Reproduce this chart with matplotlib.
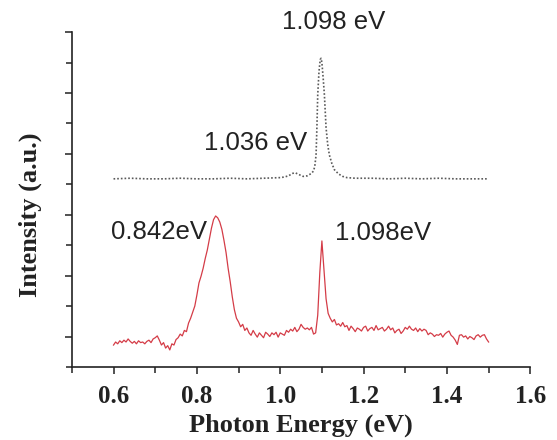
import matplotlib
matplotlib.use("Agg")
import matplotlib.pyplot as plt
from matplotlib.ticker import MultipleLocator

# PL spectra: lower trace (red, solid) and offset upper trace (grey, dotted)
red_energy = [
    0.600, 0.605, 0.610, 0.615, 0.620, 0.625, 0.630, 0.635, 0.640, 0.645,
    0.650, 0.655, 0.660, 0.665, 0.670, 0.675, 0.680, 0.685, 0.690, 0.695,
    0.700, 0.705, 0.710, 0.715, 0.720, 0.725, 0.730, 0.735, 0.740, 0.745,
    0.750, 0.755, 0.760, 0.765, 0.770, 0.775, 0.780, 0.785, 0.790, 0.795,
    0.800, 0.805, 0.810, 0.815, 0.820, 0.825, 0.830, 0.835, 0.840, 0.845,
    0.850, 0.855, 0.860, 0.865, 0.870, 0.875, 0.880, 0.885, 0.890, 0.895,
    0.900, 0.905, 0.910, 0.915, 0.920, 0.925, 0.930, 0.935, 0.940, 0.945,
    0.950, 0.955, 0.960, 0.965, 0.970, 0.975, 0.980, 0.985, 0.990, 0.995,
    1.000, 1.005, 1.010, 1.015, 1.020, 1.025, 1.030, 1.035, 1.040, 1.045,
    1.050, 1.055, 1.060, 1.065, 1.070, 1.075, 1.080, 1.085, 1.090, 1.095,
    1.100, 1.105, 1.110, 1.115, 1.120, 1.125, 1.130, 1.135, 1.140, 1.145,
    1.150, 1.155, 1.160, 1.165, 1.170, 1.175, 1.180, 1.185, 1.190, 1.195,
    1.200, 1.205, 1.210, 1.215, 1.220, 1.225, 1.230, 1.235, 1.240, 1.245,
    1.250, 1.255, 1.260, 1.265, 1.270, 1.275, 1.280, 1.285, 1.290, 1.295,
    1.300, 1.305, 1.310, 1.315, 1.320, 1.325, 1.330, 1.335, 1.340, 1.345,
    1.350, 1.355, 1.360, 1.365, 1.370, 1.375, 1.380, 1.385, 1.390, 1.395,
    1.400, 1.405, 1.410, 1.415, 1.420, 1.425, 1.430, 1.435, 1.440, 1.445,
    1.450, 1.455, 1.460, 1.465, 1.470, 1.475, 1.480, 1.485, 1.490, 1.495,
    1.500,
]
red_intensity = [
    -0.14, -0.09, -0.12, -0.07, -0.10, -0.06, -0.09, -0.04, -0.08, -0.11,
    -0.08, -0.12, -0.07, -0.10, -0.09, -0.12, -0.08, -0.06, -0.10, -0.04,
    -0.02, 0.01, -0.06, -0.14, -0.10, -0.19, -0.15, -0.22, -0.12, -0.14,
    -0.05, -0.02, 0.04, 0.01, 0.10, 0.08, 0.22, 0.30, 0.40, 0.50,
    0.68, 0.88, 0.99, 1.12, 1.28, 1.42, 1.60, 1.78, 1.92, 1.98,
    1.95, 1.88, 1.76, 1.58, 1.38, 1.12, 0.90, 0.65, 0.44, 0.30,
    0.24, 0.16, 0.20, 0.10, 0.14, 0.06, 0.02, 0.10, 0.04, -0.01,
    0.06, 0.02, -0.02, 0.07, 0.04, 0.00, 0.06, 0.03, 0.07, -0.01,
    0.06, 0.04, 0.02, 0.10, 0.07, 0.12, 0.09, 0.15, 0.08, 0.12,
    0.20, 0.15, 0.12, 0.14, 0.11, 0.15, 0.04, 0.06, 0.35, 1.05,
    1.57, 1.10, 0.62, 0.38, 0.30, 0.24, 0.28, 0.19, 0.21, 0.17,
    0.23, 0.16, 0.18, 0.10, 0.17, 0.13, 0.08, 0.14, 0.12, 0.09,
    0.15, 0.17, 0.09, 0.13, 0.15, 0.10, 0.18, 0.11, 0.13, 0.15,
    0.09, 0.12, 0.17, 0.11, 0.14, 0.06, 0.10, 0.12, 0.05, 0.09,
    0.15, 0.12, 0.17, 0.12, 0.10, 0.14, 0.08, 0.13, 0.09, 0.12,
    0.10, 0.03, 0.06, 0.04, 0.00, 0.03, 0.02, 0.05, -0.01, 0.04,
    0.07, 0.09, 0.02, -0.01, -0.06, -0.13, 0.02, 0.03, -0.01, 0.01,
    -0.04, 0.00, -0.02, -0.05, 0.01, 0.03, -0.01, 0.02, 0.03, -0.04,
    -0.09,
]

grey_energy = [
    0.60, 0.64, 0.68, 0.72, 0.76, 0.80, 0.84, 0.88, 0.92, 0.96,
    1.000, 1.010, 1.020, 1.030, 1.036, 1.045, 1.055, 1.065, 1.075, 1.080,
    1.083, 1.086, 1.088, 1.090, 1.093, 1.096, 1.098, 1.100, 1.103, 1.106,
    1.110, 1.114, 1.118, 1.124, 1.130, 1.140, 1.150, 1.160, 1.18, 1.22,
    1.26, 1.30, 1.34, 1.38, 1.42, 1.46, 1.50,
]
grey_intensity = [
    2.59, 2.60, 2.59, 2.59, 2.60, 2.59, 2.59, 2.60, 2.59, 2.60,
    2.61, 2.62, 2.64, 2.68, 2.69, 2.66, 2.63, 2.64, 2.68, 2.72,
    2.80, 2.98, 3.43, 3.97, 4.35, 4.55, 4.57, 4.50, 4.25, 3.97,
    3.43, 3.15, 2.98, 2.84, 2.74, 2.67, 2.63, 2.61, 2.60, 2.60,
    2.59, 2.60, 2.59, 2.60, 2.59, 2.59, 2.59,
]

# peak labels: text, x, y
peak_labels = [
    ("1.098 eV", 1.128, 5.16),
    ("1.036 eV", 0.942, 3.18),
    ("0.842eV", 0.710, 1.72),
    ("1.098eV", 1.247, 1.70),
]

fig = plt.figure(figsize=(5.57, 4.40), dpi=100)
ax = fig.add_axes([0.129, 0.166, 0.823, 0.761])

ax.plot(red_energy, red_intensity, color="#d43c47", lw=0.9)
ax.plot(grey_energy, grey_intensity, color="#5a5a5a", lw=1.2,
        linestyle=(0, (1, 1.2)))

for txt, x, y in peak_labels:
    ax.text(x, y, txt, ha="center", va="center", fontsize=18.5,
            family="Liberation Sans", color="#222222", clip_on=False)

ax.set_xlim(0.5, 1.6)
ax.set_ylim(-0.5, 5.0)
ax.xaxis.set_major_locator(MultipleLocator(0.2))
ax.xaxis.set_minor_locator(MultipleLocator(0.1))
ax.yaxis.set_major_locator(MultipleLocator(1.0))
ax.yaxis.set_minor_locator(MultipleLocator(0.5))
ax.set_xticks([0.6, 0.8, 1.0, 1.2, 1.4, 1.6])
ax.set_xticklabels(["0.6", "0.8", "1.0", "1.2", "1.4", "1.6"])
ax.set_yticklabels([])

for side in ("top", "right"):
    ax.spines[side].set_visible(False)
for side in ("left", "bottom"):
    ax.spines[side].set_linewidth(1.2)
    ax.spines[side].set_color("#222222")

ax.tick_params(which="both", direction="out", width=1.1, color="#222222")
ax.tick_params(which="major", length=5)
ax.tick_params(which="minor", length=4)
ax.tick_params(axis="x", which="major", pad=8)
for lab in ax.get_xticklabels():
    lab.set_fontfamily("Liberation Serif")
    lab.set_fontweight("bold")
    lab.set_fontsize(18)
    lab.set_color("#222222")

ax.set_xlabel("Photon Energy (eV)", family="Liberation Serif",
              fontweight="bold", fontsize=19, color="#222222", labelpad=4)
ax.set_ylabel("Intensity (a.u.)", family="Liberation Serif",
              fontweight="bold", fontsize=19, color="#222222")
ax.yaxis.set_label_coords(-0.066, 0.455)

fig.savefig("out.png", dpi=100)
